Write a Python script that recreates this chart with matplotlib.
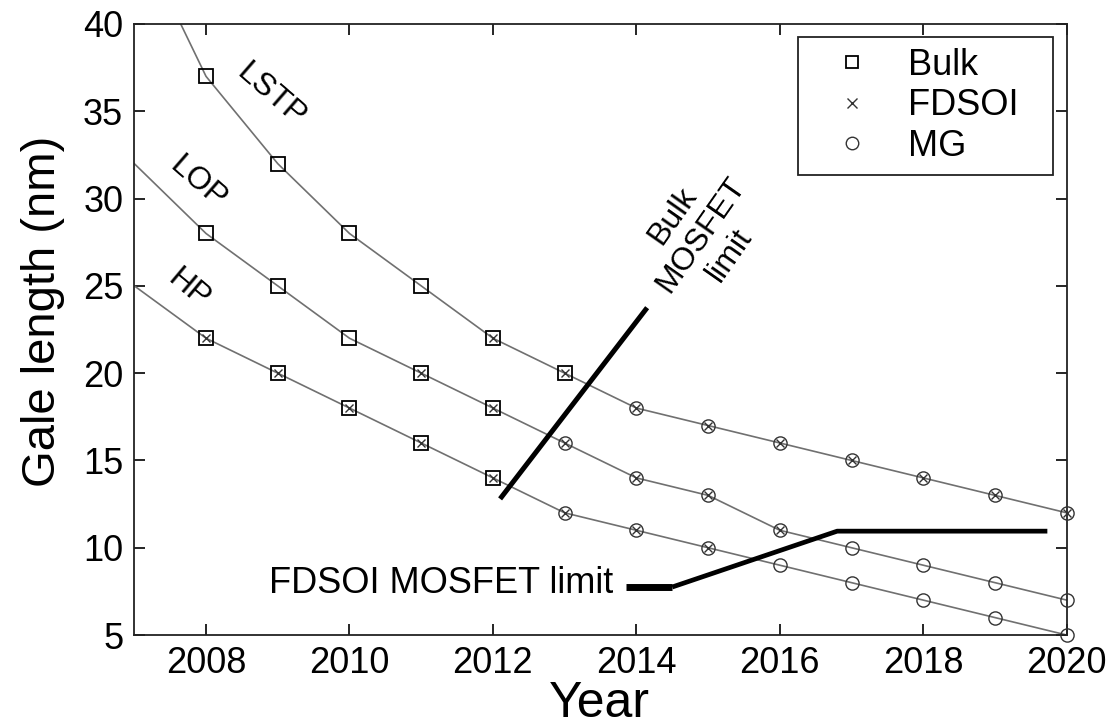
import matplotlib
matplotlib.use("Agg")
import matplotlib.pyplot as plt
from matplotlib.lines import Line2D

plt.rcParams['font.family'] = ['Liberation Sans', 'DejaVu Sans']

years = [2007, 2008, 2009, 2010, 2011, 2012, 2013, 2014, 2015, 2016, 2017, 2018, 2019, 2020]
lstp = [45.5, 37, 32, 28, 25, 22, 20, 18, 17, 16, 15, 14, 13, 12]
lop = [32, 28, 25, 22, 20, 18, 16, 14, 13, 11, 10, 9, 8, 7]
hp = [25, 22, 20, 18, 16, 14, 12, 11, 10, 9, 8, 7, 6, 5]

# which years carry which device marker
bulk_years = {'LSTP': [2008, 2009, 2010, 2011, 2012, 2013],
              'LOP': [2008, 2009, 2010, 2011, 2012],
              'HP': [2008, 2009, 2010, 2011, 2012]}
fdsoi_years = {'LSTP': [2012, 2013, 2014, 2015, 2016, 2017, 2018, 2019, 2020],
               'LOP': [2011, 2012, 2013, 2014, 2015, 2016],
               'HP': [2008, 2009, 2010, 2011, 2012, 2013, 2014, 2015]}
mg_years = {'LSTP': [2014, 2015, 2016, 2017, 2018, 2019, 2020],
            'LOP': [2013, 2014, 2015, 2016, 2017, 2018, 2019, 2020],
            'HP': [2013, 2014, 2015, 2016, 2017, 2018, 2019, 2020]}

bulk_limit_x = [2012.1, 2014.15]
bulk_limit_y = [12.8, 23.75]
fdsoi_limit_x = [2013.85, 2014.5, 2016.8, 2019.73]
fdsoi_limit_y = [7.75, 7.75, 10.95, 10.95]

series = {'LSTP': lstp, 'LOP': lop, 'HP': hp}

fig = plt.figure(figsize=(11.1, 7.27), dpi=100)
ax = fig.add_axes([0.121, 0.1265, 0.84, 0.8405])

for name, vals in series.items():
    ax.plot(years, vals, color='#707070', lw=1.2, zorder=2)
    lookup = dict(zip(years, vals))
    bx = bulk_years[name]
    ax.plot(bx, [lookup[y] for y in bx], ls='none', marker='s', ms=9.5,
            mfc='none', mec='black', mew=1.3, zorder=3, clip_on=False)
    fx = fdsoi_years[name]
    ax.plot(fx, [lookup[y] for y in fx], ls='none', marker='x', ms=6,
            mec='#333333', mew=1.0, zorder=3, clip_on=False)
    mx = mg_years[name]
    ax.plot(mx, [lookup[y] for y in mx], ls='none', marker='o', ms=9.5,
            mfc='none', mec='#333333', mew=1.0, zorder=3, clip_on=False)

ax.plot(bulk_limit_x, bulk_limit_y, color='black', lw=3.6, solid_capstyle='butt', zorder=4)
ax.plot(fdsoi_limit_x[:2], fdsoi_limit_y[:2], color='black', lw=5, solid_capstyle='butt', zorder=4)
ax.plot(fdsoi_limit_x[1:], fdsoi_limit_y[1:], color='black', lw=3.4, solid_capstyle='butt', zorder=4)

ax.text(2008.9, 35.9, 'LSTP', fontsize=23, rotation=-41, ha='center', va='center')
ax.text(2007.89, 30.9, 'LOP', fontsize=23, rotation=-41, ha='center', va='center')
ax.text(2007.75, 24.8, 'HP', fontsize=23, rotation=-40, ha='center', va='center')
ax.text(2014.9, 27.9, 'Bulk\nMOSFET\nlimit', fontsize=23, rotation=55,
        ha='center', va='center', multialignment='center', linespacing=1.2)
ax.text(2013.68, 7.95, 'FDSOI MOSFET limit', fontsize=26, ha='right', va='center')

ax.set_xlim(2007, 2020)
ax.set_ylim(5, 40)
ax.set_xticks(range(2008, 2021, 2))
ax.set_yticks(range(5, 41, 5))
ax.tick_params(direction='in', length=8, width=1.2, labelsize=26,
               top=True, right=True, pad=8)
for s in ax.spines.values():
    s.set_linewidth(1.3)
    s.set_color('#222222')

ax.set_xlabel('Year', fontsize=36)
ax.xaxis.set_label_coords(0.499, -0.076)
ax.set_ylabel('Gale length (nm)', fontsize=34)
ax.yaxis.set_label_coords(-0.074, 0.529)

handles = [Line2D([], [], ls='none', marker='s', ms=9, mfc='none', mec='black', mew=1.3),
           Line2D([], [], ls='none', marker='x', ms=7, mec='#333333', mew=1.0),
           Line2D([], [], ls='none', marker='o', ms=9, mfc='none', mec='#333333', mew=1.0)]
leg = ax.legend(handles, ['Bulk', 'FDSOI', 'MG'], loc='upper left',
                bbox_to_anchor=(0.7117, 0.5, 0.2733, 0.4787), mode='expand',
                borderaxespad=0, fontsize=26, labelspacing=0.15,
                handlelength=2.4, handletextpad=0.35, borderpad=0.3,
                fancybox=False, framealpha=1, edgecolor='#222222')
leg.get_frame().set_linewidth(1.3)

fig.savefig('out.png', dpi=100)
